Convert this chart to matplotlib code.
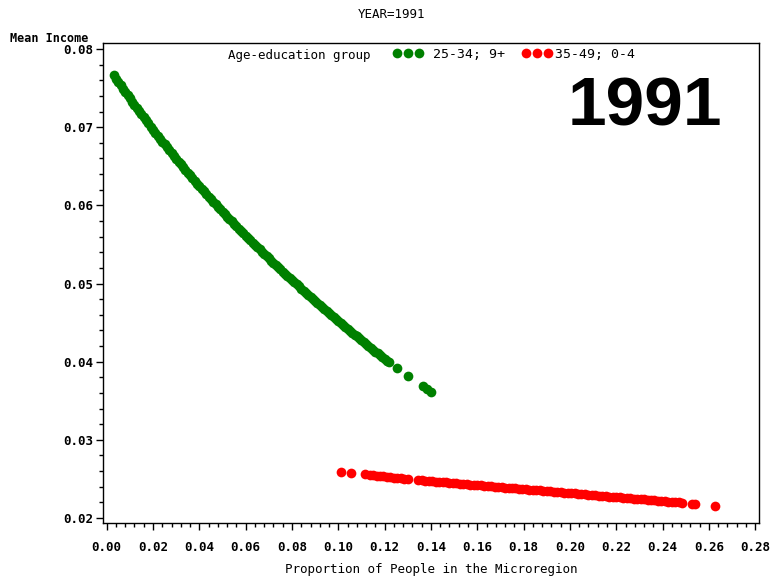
import matplotlib
matplotlib.use("Agg")
import matplotlib.pyplot as plt
from matplotlib.ticker import MultipleLocator, FormatStrFormatter

# ---- data ----
green_x = [0.003, 0.004, 0.005, 0.006, 0.007, 0.008, 0.009, 0.010, 0.011, 0.012,
           0.013, 0.014, 0.015, 0.016, 0.017, 0.018, 0.019, 0.020, 0.021, 0.022,
           0.023, 0.024, 0.025, 0.026, 0.027, 0.028, 0.029, 0.030, 0.031, 0.032,
           0.033, 0.034, 0.035, 0.036, 0.037, 0.038, 0.039, 0.040, 0.041, 0.042,
           0.043, 0.044, 0.045, 0.046, 0.047, 0.048, 0.049, 0.050, 0.051, 0.052,
           0.053, 0.054, 0.055, 0.056, 0.057, 0.058, 0.059, 0.060, 0.061, 0.062,
           0.063, 0.064, 0.065, 0.066, 0.067, 0.068, 0.069, 0.070, 0.071, 0.072,
           0.073, 0.074, 0.075, 0.076, 0.077, 0.078, 0.079, 0.080, 0.081, 0.082,
           0.083, 0.084, 0.085, 0.086, 0.087, 0.088, 0.089, 0.090, 0.091, 0.092,
           0.093, 0.094, 0.095, 0.096, 0.097, 0.098, 0.099, 0.100, 0.101, 0.102,
           0.103, 0.104, 0.105, 0.106, 0.107, 0.108, 0.109, 0.110, 0.111, 0.112,
           0.113, 0.114, 0.115, 0.116, 0.117, 0.118, 0.119, 0.120, 0.121, 0.122,
           0.1255, 0.1301, 0.1366, 0.1384, 0.1402]
green_y = [0.07663, 0.07620, 0.07578, 0.07535, 0.07493, 0.07451, 0.07410, 0.07368, 0.07327, 0.07286,
           0.07246, 0.07205, 0.07165, 0.07126, 0.07086, 0.07047, 0.07008, 0.06969, 0.06930, 0.06892,
           0.06854, 0.06816, 0.06779, 0.06742, 0.06705, 0.06668, 0.06631, 0.06595, 0.06559, 0.06523,
           0.06488, 0.06452, 0.06417, 0.06382, 0.06348, 0.06313, 0.06279, 0.06245, 0.06212, 0.06179,
           0.06146, 0.06113, 0.06080, 0.06048, 0.06015, 0.05983, 0.05951, 0.05920, 0.05888, 0.05857,
           0.05826, 0.05795, 0.05764, 0.05733, 0.05703, 0.05672, 0.05642, 0.05612, 0.05582, 0.05553,
           0.05523, 0.05494, 0.05465, 0.05436, 0.05407, 0.05378, 0.05350, 0.05321, 0.05293, 0.05264,
           0.05236, 0.05208, 0.05180, 0.05153, 0.05125, 0.05097, 0.05070, 0.05043, 0.05016, 0.04989,
           0.04962, 0.04935, 0.04909, 0.04882, 0.04856, 0.04829, 0.04803, 0.04777, 0.04751, 0.04725,
           0.04699, 0.04673, 0.04647, 0.04622, 0.04596, 0.04571, 0.04545, 0.04520, 0.04495, 0.04470,
           0.04445, 0.04420, 0.04395, 0.04371, 0.04346, 0.04322, 0.04297, 0.04273, 0.04249, 0.04225,
           0.04201, 0.04177, 0.04154, 0.04130, 0.04107, 0.04083, 0.04060, 0.04037, 0.04014, 0.03991,
           0.03915, 0.03812, 0.03689, 0.03650, 0.03607]

red_x = [0.1010, 0.1053, 0.1114,
         0.1135, 0.1150, 0.1165, 0.1180, 0.1195, 0.1210, 0.1225, 0.1240, 0.1255, 0.1270, 0.1285, 0.1300,
         0.1345, 0.1360, 0.1375, 0.1390, 0.1405, 0.1420, 0.1435, 0.1450, 0.1465, 0.1480,
         0.1495, 0.1510, 0.1525, 0.1540, 0.1555, 0.1570, 0.1585, 0.1600, 0.1615, 0.1630,
         0.1645, 0.1660, 0.1675, 0.1690, 0.1705, 0.1720, 0.1735, 0.1750, 0.1765, 0.1780,
         0.1795, 0.1810, 0.1825, 0.1840, 0.1855, 0.1870, 0.1885, 0.1900, 0.1915, 0.1930,
         0.1945, 0.1960, 0.1975, 0.1990, 0.2005, 0.2020, 0.2035, 0.2050, 0.2065, 0.2080,
         0.2095, 0.2110, 0.2125, 0.2140, 0.2155, 0.2170, 0.2185, 0.2200, 0.2215, 0.2230,
         0.2245, 0.2260, 0.2275, 0.2290, 0.2305, 0.2320, 0.2335, 0.2350, 0.2365, 0.2380,
         0.2395, 0.2410, 0.2425, 0.2440, 0.2455, 0.2470, 0.2485,
         0.2527, 0.2539, 0.2626]
red_y = [0.02585, 0.02572, 0.02559,
         0.02550, 0.02545, 0.02541, 0.02536, 0.02531, 0.02527, 0.02522, 0.02517, 0.02513, 0.02508, 0.02503, 0.02499,
         0.02486, 0.02482, 0.02478, 0.02474, 0.02470, 0.02466, 0.02463, 0.02459, 0.02455, 0.02451,
         0.02447, 0.02443, 0.02440, 0.02436, 0.02432, 0.02428, 0.02424, 0.02421, 0.02417, 0.02413,
         0.02409, 0.02405, 0.02401, 0.02398, 0.02394, 0.02390, 0.02386, 0.02382, 0.02378, 0.02375,
         0.02371, 0.02367, 0.02363, 0.02359, 0.02356, 0.02352, 0.02348, 0.02344, 0.02340, 0.02336,
         0.02333, 0.02329, 0.02325, 0.02321, 0.02317, 0.02314, 0.02310, 0.02306, 0.02302, 0.02298,
         0.02294, 0.02291, 0.02287, 0.02283, 0.02279, 0.02275, 0.02272, 0.02268, 0.02264, 0.02260,
         0.02256, 0.02252, 0.02249, 0.02245, 0.02241, 0.02237, 0.02233, 0.02229, 0.02226, 0.02222,
         0.02218, 0.02214, 0.02210, 0.02207, 0.02203, 0.02199, 0.02195,
         0.02180, 0.02180, 0.02158]

series_labels = ["25-34; 9+", "35-49; 0-4"]
legend_title = "Age-education group"
x_ticks = [0.00, 0.02, 0.04, 0.06, 0.08, 0.10, 0.12, 0.14, 0.16, 0.18, 0.20, 0.22, 0.24, 0.26, 0.28]
y_ticks = [0.02, 0.03, 0.04, 0.05, 0.06, 0.07, 0.08]

# ---- figure ----
W, H = 771, 576
fig = plt.figure(figsize=(W / 100, H / 100), dpi=100)
fig.patch.set_facecolor("white")

def fx(px):
    return px / W

def fy(py):
    return 1 - py / H

left, right, top, bottom = 102.7, 759.3, 43.3, 523.0
ax = fig.add_axes([fx(left), fy(bottom), (right - left) / W, (bottom - top) / H])

mono = "DejaVu Sans Mono"

g, = ax.plot(green_x, green_y, linestyle="none", marker="o", markersize=7.0,
             markeredgewidth=0, color="#008000", label=series_labels[0])
r, = ax.plot(red_x, red_y, linestyle="none", marker="o", markersize=7.0,
             markeredgewidth=0, color="#ff0000", label=series_labels[1])

ax.set_xlim(-0.00173, 0.28177)
ax.set_ylim(0.01936, 0.08073)

ax.set_xticks(x_ticks)
ax.set_yticks(y_ticks)
ax.xaxis.set_minor_locator(MultipleLocator(0.004))
ax.yaxis.set_minor_locator(MultipleLocator(0.002))
ax.xaxis.set_major_formatter(FormatStrFormatter("%.2f"))
ax.yaxis.set_major_formatter(FormatStrFormatter("%.2f"))

ax.tick_params(axis="both", which="both", direction="out", color="black", width=1,
               top=False, right=False)
ax.tick_params(axis="both", which="major", length=5)
ax.tick_params(axis="both", which="minor", length=3)
ax.tick_params(axis="x", which="major", pad=8)
ax.tick_params(axis="y", which="major", pad=2)

for lab in ax.get_xticklabels() + ax.get_yticklabels():
    lab.set_fontfamily(mono)
    lab.set_fontweight("bold")
    lab.set_fontsize(9)

for sp in ax.spines.values():
    sp.set_color("black")
    sp.set_linewidth(1.0)

# Titles / labels
fig.text(fx(392), fy(14), "YEAR=1991", ha="center", va="center",
         fontsize=9, family=mono)
fig.text(fx(10), fy(38), "Mean Income", ha="left", va="center",
         fontsize=8.5, family=mono, fontweight="bold")
fig.text(fx(431), fy(570), "Proportion of People in the Microregion",
         ha="center", va="center", fontsize=9, family=mono)

# Big year label
fig.text(fx(645), fy(108), "1991", ha="center", va="center",
         fontsize=50, fontweight="bold", family="Liberation Sans")

# Legend
fig.text(fx(228), fy(55), legend_title, ha="left", va="center",
         fontsize=9, family=mono)
common = dict(numpoints=3, frameon=False, handlelength=2.3, borderpad=0,
              borderaxespad=0, prop={"family": mono, "size": 9.5})
leg1 = fig.legend(handles=[g], loc="center left",
                  bbox_to_anchor=(fx(393), fy(54)), handletextpad=0.75, **common)
leg2 = fig.legend(handles=[r], loc="center left",
                  bbox_to_anchor=(fx(522), fy(54)), handletextpad=0.2, **common)
for leg in (leg1, leg2):
    for h in leg.legend_handles:
        h.set_markersize(7)

fig.savefig("out.png", dpi=100, facecolor="white")
